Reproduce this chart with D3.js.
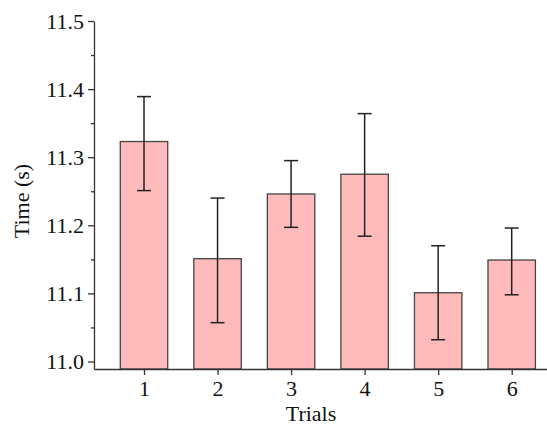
<!DOCTYPE html>
<html>
<head>
<meta charset="utf-8">
<script src="https://cdn.jsdelivr.net/npm/d3@7"></script>
<style>
body{margin:0;background:#fff;}
svg{display:block;overflow:hidden;}
</style>
</head>
<body>
<div id="chart"></div>
<script>
var trials = [1, 2, 3, 4, 5, 6];
var means  = [11.323, 11.151, 11.246, 11.275, 11.101, 11.149];
var errHi  = [11.389, 11.240, 11.295, 11.364, 11.170, 11.196];
var errLo  = [11.251, 11.057, 11.197, 11.184, 11.032, 11.098];
var yTicks = [11.0, 11.1, 11.2, 11.3, 11.4, 11.5];
var yMinor = [11.05, 11.15, 11.25, 11.35, 11.45];

var W = 547, H = 426;
var margin = {top: 21, left: 94, bottom: 57};
var FONT = "Liberation Serif";

var svg = d3.select("#chart").append("svg")
  .attr("width", W).attr("height", H);

var x = d3.scaleLinear().domain([0.32, 6.48]).range([margin.left, W]);
var y = d3.scaleLinear().domain([10.989, 11.5]).range([H - margin.bottom, margin.top]);
var barW = x(0.645) - x(0);

// bars
svg.selectAll("rect.bar")
  .data(trials)
  .enter().append("rect")
  .attr("class", "bar")
  .attr("x", function(d){ return x(d) - barW/2; })
  .attr("y", function(d,i){ return y(means[i]); })
  .attr("width", barW)
  .attr("height", function(d,i){ return y(10.989) - y(means[i]); })
  .style("fill", "#ffbbbb")
  .style("stroke", "#444")
  .style("stroke-width", 1.3);

// error bars
var eb = svg.selectAll("g.err")
  .data(trials)
  .enter().append("g")
  .attr("class", "err")
  .style("stroke", "#222")
  .style("stroke-width", 1.5);

eb.append("line")
  .attr("x1", function(d){ return x(d); })
  .attr("x2", function(d){ return x(d); })
  .attr("y1", function(d,i){ return y(errHi[i]); })
  .attr("y2", function(d,i){ return y(errLo[i]); });
eb.append("line")
  .attr("x1", function(d){ return x(d) - 7; })
  .attr("x2", function(d){ return x(d) + 7; })
  .attr("y1", function(d,i){ return y(errHi[i]); })
  .attr("y2", function(d,i){ return y(errHi[i]); });
eb.append("line")
  .attr("x1", function(d){ return x(d) - 7; })
  .attr("x2", function(d){ return x(d) + 7; })
  .attr("y1", function(d,i){ return y(errLo[i]); })
  .attr("y2", function(d,i){ return y(errLo[i]); });

function styleAxis(g){
  g.attr("font-family", FONT).attr("font-size", 22);
  g.selectAll("text").style("font-family", FONT).style("font-size", "22px").style("fill", "#111");
  g.selectAll("path,line").style("stroke", "#333").style("stroke-width", 1.3);
}

// axes
svg.append("g")
  .attr("transform", "translate(" + margin.left + ",0)")
  .call(d3.axisLeft(y).tickValues(yMinor).tickSize(3).tickFormat(""))
  .call(styleAxis)
  .select(".domain").remove();

svg.append("g")
  .attr("transform", "translate(" + margin.left + ",0)")
  .call(d3.axisLeft(y).tickValues(yTicks).tickSize(6).tickSizeOuter(0)
    .tickPadding(4).tickFormat(d3.format(".1f")))
  .call(styleAxis);

svg.append("g")
  .attr("transform", "translate(0," + (H - margin.bottom) + ")")
  .call(d3.axisBottom(x).tickValues(trials).tickSize(6).tickSizeOuter(0)
    .tickPadding(5).tickFormat(d3.format("d")))
  .call(styleAxis);

svg.append("text")
  .style("font-family", FONT).style("font-size", "22px").style("fill", "#111")
  .attr("text-anchor", "middle")
  .attr("x", 311).attr("y", 421)
  .text("Trials");

svg.append("text")
  .style("font-family", FONT).style("font-size", "22px").style("fill", "#111")
  .attr("text-anchor", "middle")
  .attr("transform", "translate(29,201) rotate(-90)")
  .text("Time (s)");
</script>
</body>
</html>
